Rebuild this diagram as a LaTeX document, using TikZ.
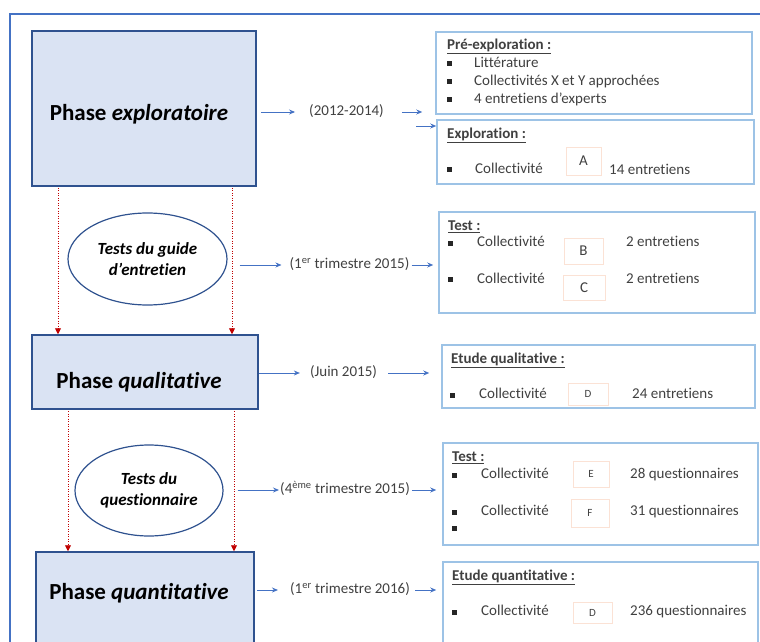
\documentclass[tikz,border=0pt]{standalone}
\usepackage{fontspec}
\setmainfont{Carlito}[Ligatures=NoCommon]
\usetikzlibrary{arrows.meta, shapes.geometric, positioning}

\definecolor{frameblue}{HTML}{4472C4}
\definecolor{phasefill}{HTML}{DAE3F3}
\definecolor{phaseline}{HTML}{2F528F}
\definecolor{boxline}{HTML}{9DC3E6}
\definecolor{letterline}{HTML}{FBE2D5}
\definecolor{txtgray}{HTML}{404040}
\definecolor{dotred}{HTML}{C00000}

\newcommand{\sqbul}[2]{\fill[black!85] (#1-2.5,#2-2.5) rectangle (#1+2.5,#2+2.5);}

\begin{document}
\begin{tikzpicture}[x=1bp, y=-1bp,
    phase/.style={draw=phaseline, fill=phasefill, line width=1.5bp},
    phasetxt/.style={inner sep=0, font=\fontsize{23bp}{26bp}\selectfont\bfseries},
    oval/.style={ellipse, draw=phaseline, line width=1.2bp, inner sep=0, align=center,
        font=\fontsize{17bp}{21bp}\selectfont\bfseries\itshape},
    infobox/.style={draw=boxline, line width=1.5bp},
    item/.style={anchor=west, inner sep=0, text=txtgray, text height=10bp, text depth=3bp,
        font=\fontsize{15bp}{17bp}\selectfont},
    head/.style={item, font=\fontsize{15bp}{17bp}\selectfont\bfseries},
    date/.style={inner sep=0, text=txtgray, text height=10bp, text depth=3bp,
        font=\fontsize{15bp}{17bp}\selectfont},
    letter/.style={draw=letterline, line width=0.8bp, inner sep=0, text=txtgray},
    arr/.style={draw=frameblue, line width=0.9bp, -{Stealth[length=6bp, width=5bp]}},
    redarr/.style={draw=dotred, line width=0.9bp, dash pattern=on 1bp off 1.5bp,
        -{Triangle[length=6bp, width=6bp]}}
]
    \clip (0,0) rectangle (760,642);
    % Outer frame
    \draw[frameblue, line width=1.8bp] (10,700) -- (10,14) -- (800,14);

    % Phases
    \node[phase, minimum width=224bp, minimum height=155bp] (p1) at (144,108.5) {};
    \node[phasetxt] (p1t) at (139,114) {Phase \textit{exploratoire}};
    \node[phase, minimum width=226bp, minimum height=74bp] (p2) at (145,372) {};
    \node[phasetxt] (p2t) at (139,382) {Phase \textit{qualitative}};
    \node[phase, minimum width=218bp, minimum height=108bp] (p3) at (145,606) {};
    \node[phasetxt] (p3t) at (139,593) {Phase \textit{quantitative}};

    % Tests
    \node[oval, minimum width=159bp, minimum height=92bp] (e1) at (147.5,259)
        {Tests du guide\\d'entretien};
    \node[oval, minimum width=148bp, minimum height=91bp] (e2) at (149,490.5)
        {Tests du\\questionnaire};

    % Red dotted arrows
    \coordinate (r1) at (58,188);
    \coordinate (r2) at (232,188);
    \coordinate (r3) at (68,411);
    \coordinate (r4) at (234,411);
    \draw[redarr] (r1) -- (r1 |- p2.north);
    \draw[redarr] (r2) -- (r2 |- p2.north);
    \draw[redarr] (r3) -- (r3 |- p3.north);
    \draw[redarr] (r4) -- (r4 |- p3.north);

    % Dates
    \node[date] (d1) at (346.5,112) {(2012-2014)};
    \node[date] (d2) at (349.5,265) {(1\textsuperscript{er} trimestre 2015)};
    \node[date] (d3) at (343.5,373) {(Juin 2015)};
    \node[date] (d4) at (345,490) {(4\textsuperscript{ème} trimestre 2015)};
    \node[date] (d5) at (350,590) {(1\textsuperscript{er} trimestre 2016)};

    % Pre-exploration / exploration
    \node[infobox, minimum width=316bp, minimum height=82bp] (pre) at (594,73) {};
    \node[head] (pre-h) at (447,46) {\underline{Pré-exploration :}};
    \sqbul{449}{64} \node[item] (pre-1) at (474,64) {Littérature};
    \sqbul{449}{82} \node[item] (pre-2) at (474,82) {Collectivités X et Y approchées};
    \sqbul{449}{100} \node[item] (pre-3) at (474,100) {4 entretiens d’experts};

    \node[infobox, minimum width=317bp, minimum height=64bp] (expl) at (595.5,152) {};
    \node[head] (expl-h) at (447,135) {\underline{Exploration :}};
    \sqbul{449}{170} \node[item] (expl-1) at (475,170) {Collectivité};
    \node[letter, minimum width=35bp, minimum height=28bp,
        font=\fontsize{15bp}{17bp}\selectfont] (la) at (583.5,161) {A};
    \node[item] (expl-2) at (609,171) {14 entretiens};

    % Test guide
    \node[infobox, minimum width=316bp, minimum height=101bp] (t1) at (597,262.5) {};
    \node[head] (t1-h) at (448,227) {\underline{Test :}};
    \sqbul{450}{243} \node[item] (t1-1) at (477,243) {Collectivité};
    \node[letter, minimum width=39bp, minimum height=26bp,
        font=\fontsize{15bp}{17bp}\selectfont] (lb) at (583.5,251) {B};
    \node[item] (t1-2) at (626,243) {2 entretiens};
    \sqbul{450}{279} \node[item] (t1-3) at (477,280) {Collectivité};
    \node[letter, minimum width=42bp, minimum height=25bp,
        font=\fontsize{15bp}{17bp}\selectfont] (lc) at (584,288) {C};
    \node[item] (t1-4) at (626,280) {2 entretiens};

    % Etude qualitative
    \node[infobox, minimum width=313bp, minimum height=63bp] (q) at (598.5,376.5) {};
    \node[head] (q-h) at (451,360) {\underline{Etude qualitative :}};
    \sqbul{452}{395} \node[item] (q-1) at (479,395) {Collectivité};
    \node[letter, minimum width=40bp, minimum height=22bp,
        font=\fontsize{11bp}{13bp}\selectfont] (ld1) at (588,394) {D};
    \node[item] (q-2) at (632,395) {24 entretiens};

    % Test questionnaire
    \node[infobox, minimum width=315bp, minimum height=102bp] (t2) at (600.5,494) {};
    \node[head] (t2-h) at (452,458) {\underline{Test :}};
    \sqbul{454}{475} \node[item] (t2-1) at (481,475) {Collectivité};
    \node[letter, minimum width=36bp, minimum height=26bp,
        font=\fontsize{11bp}{13bp}\selectfont] (le) at (591,474) {E};
    \node[item] (t2-2) at (630,475) {28 questionnaires};
    \sqbul{454}{512} \node[item] (t2-3) at (481,512) {Collectivité};
    \node[letter, minimum width=38bp, minimum height=28bp,
        font=\fontsize{11bp}{13bp}\selectfont] (lf) at (590,513) {F};
    \node[item] (t2-4) at (630,512) {31 questionnaires};
    \sqbul{454}{528}

    % Etude quantitative
    \node[infobox, minimum width=315bp, minimum height=98bp] (qt) at (600.5,611) {};
    \node[head] (qt-h) at (452,577) {\underline{Etude quantitative :}};
    \sqbul{454}{612} \node[item] (qt-1) at (481,612) {Collectivité};
    \node[letter, minimum width=39bp, minimum height=21bp,
        font=\fontsize{11bp}{13bp}\selectfont] (ld2) at (592.5,612.5) {D};
    \node[item] (qt-2) at (630,612) {236 questionnaires};

    % Blue arrows
    \draw[arr, shorten <=4bp, shorten >=14bp] (p1.east |- d1.west) -- (d1.west);
    \draw[arr, shorten <=18bp, shorten >=13bp] (d1.east) -- (pre.west |- d1.east);
    \coordinate (c1) at (416,126);
    \draw[arr] (c1) -- (c1 -| expl.west);
    \draw[arr, shorten <=12bp, shorten >=8bp] (e1.east |- d2.west) -- (d2.west);
    \draw[arr, shorten <=2bp, shorten >=5bp] (d2.east) -- (t1.west |- d2.east);
    \draw[arr, shorten >=10bp] (p2.east |- d3.west) -- (d3.west);
    \draw[arr, shorten <=11bp, shorten >=12bp] (d3.east) -- (q.west |- d3.east);
    \draw[arr, shorten <=14bp, shorten >=1bp] (e2.east |- d4.west) -- (d4.west);
    \draw[arr, shorten <=2bp, shorten >=6bp] (d4.east) -- (t2.west |- d4.east);
    \draw[arr, shorten <=2bp, shorten >=12bp] (p3.east |- d5.west) -- (d5.west);
    \draw[arr, shorten <=5bp, shorten >=6bp] (d5.east) -- (qt.west |- d5.east);
\end{tikzpicture}
\end{document}
